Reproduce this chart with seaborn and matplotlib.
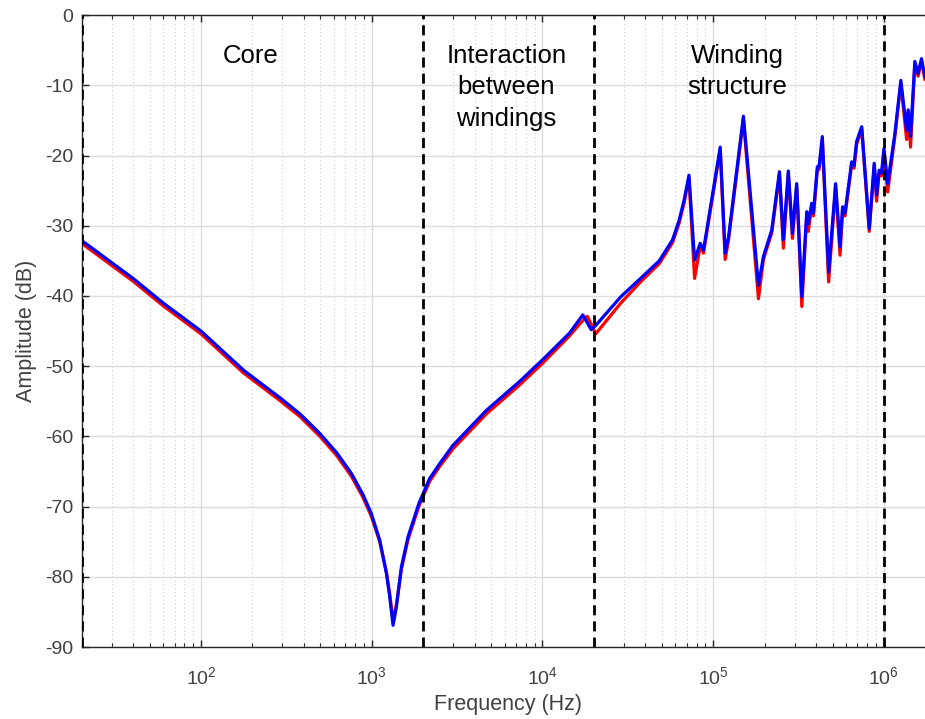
import numpy as np
import pandas as pd
import matplotlib
matplotlib.use("Agg")
import matplotlib.pyplot as plt
import seaborn as sns
from matplotlib.ticker import LogLocator, NullFormatter, FixedLocator

# ---------------- data ----------------
freq_hz = [20, 40, 60, 100, 178, 290, 380, 497, 622, 761, 889, 995, 1114, 1219,
           1274, 1333, 1394, 1492, 1631, 1892, 2183, 2498, 2985, 4690, 7330,
           10000, 14390, 17220, 18300, 19280, 20500, 28800, 37150, 48300, 57800,
           63200, 67600, 72110,
           77800, 83950, 87700, 109900, 117500, 123000, 150300, 184100, 196800,
           220300, 244300, 257600, 275400, 291100, 308300, 330400, 353200,
           360600, 377600, 386400, 407400, 416900, 435500, 474300, 521200,
           553400, 572800, 591600, 647100, 668300, 691800, 741300, 820400,
           877000, 905700, 937600, 968300, 1000000, 1052000, 1159000, 1256000,
           1358000, 1387000, 1432000, 1517000, 1585000, 1660000, 1738000]

blue_db = [-32.1, -37.5, -41.0, -45.0, -50.6, -54.5, -56.8, -59.6, -62.3, -65.3,
           -68.3, -71.0, -74.8, -79.5, -82.8, -86.9, -84.3, -78.6, -74.3, -69.5,
           -66.0, -63.9, -61.3, -56.3, -52.2, -49.1, -45.3, -42.7, -43.8, -44.8,
           -44.2, -40.1, -37.6, -35.0, -32.0, -29.2, -26.3, -22.8,
           -34.9, -32.5, -33.5, -18.8, -33.9, -31.6, -14.4, -38.5, -34.4, -30.6,
           -22.3, -32.0, -22.2, -31.1, -24.0, -40.1, -28.0, -29.7, -26.8, -28.2,
           -21.6, -21.6, -17.3, -36.6, -24.0, -33.0, -27.3, -28.2, -20.9, -21.4,
           -18.0, -15.9, -30.4, -21.1, -25.6, -22.1, -22.5, -19.0, -24.0, -16.9,
           -9.3, -16.4, -13.5, -17.3, -6.6, -8.3, -6.2, -8.8]

red_db = [-32.5, -37.9, -41.4, -45.4, -51.0, -54.9, -57.2, -60.0, -62.7, -65.7,
          -68.7, -71.4, -75.0, -79.4, -82.4, -86.3, -84.0, -78.9, -74.7, -69.9,
          -66.4, -64.3, -61.8, -56.8, -52.7, -49.6, -45.7, -43.5, -42.9, -44.0,
          -45.4, -41.0, -38.1, -35.4, -32.4, -29.6, -26.7, -23.2,
          -37.5, -32.9, -33.9, -19.2, -34.8, -32.0, -14.9, -40.4, -34.8, -31.0,
          -22.7, -33.2, -22.6, -31.8, -24.4, -41.5, -28.4, -30.8, -27.2, -28.6,
          -22.0, -22.0, -17.7, -38.0, -24.4, -34.2, -27.7, -28.6, -21.3, -21.8,
          -18.4, -16.3, -30.8, -21.5, -26.5, -22.5, -22.9, -19.4, -25.2, -17.3,
          -9.7, -17.7, -13.9, -18.8, -7.0, -8.7, -6.6, -9.2]

region_bounds_hz = [20, 2000, 20000, 1000000]
region_labels = ["Core", "Interaction\nbetween\nwindings", "Winding\nstructure"]
region_label_pos = [(194, -5.8), (6140, -10.3), (138700, -8.0)]

y_ticks = [0, -10, -20, -30, -40, -50, -60, -70, -80, -90]

# ---------------- style ----------------
sns.set_theme(style="white")
plt.rcParams["font.family"] = ["Liberation Sans", "DejaVu Sans"]
plt.rcParams["mathtext.fontset"] = "custom"
plt.rcParams["mathtext.rm"] = "Liberation Sans"
plt.rcParams["mathtext.it"] = "Liberation Sans:italic"
plt.rcParams["axes.unicode_minus"] = False

fig = plt.figure(figsize=(9.25, 7.19), dpi=100)
ax = fig.add_axes([0.0883, 0.1001, 1.0 - 0.0883, 0.979 - 0.1001])

df = pd.DataFrame({
    "Frequency (Hz)": freq_hz * 2,
    "Amplitude (dB)": red_db + blue_db,
    "series": ["red"] * len(freq_hz) + ["blue"] * len(freq_hz),
})

sns.lineplot(data=df, x="Frequency (Hz)", y="Amplitude (dB)", hue="series",
             palette={"red": "#ff0000", "blue": "#0000ff"},
             hue_order=["red", "blue"], linewidth=2.3, legend=False, ax=ax,
             sort=False, estimator=None)

ax.set_xscale("log")
ax.set_xlim(20, 1.74e6)
ax.set_ylim(-90, 0)

# region boundaries
for xb in region_bounds_hz:
    ax.axvline(xb, color="black", linewidth=2.0, linestyle=(0, (3.6, 2.2)), zorder=5)

for txt, (xp, yp) in zip(region_labels, region_label_pos):
    ax.text(xp, yp, txt, ha="center", va="center", fontsize=18.5,
            color="black", linespacing=1.38)

# ticks and grid
ax.yaxis.set_major_locator(FixedLocator(y_ticks))
ax.xaxis.set_major_locator(LogLocator(base=10, numticks=20))
ax.xaxis.set_minor_locator(LogLocator(base=10, subs=np.arange(2, 10), numticks=50))
ax.xaxis.set_minor_formatter(NullFormatter())

ax.grid(True, which="major", axis="both", color="#dcdcdc", linewidth=1.0, linestyle="-")
ax.grid(True, which="minor", axis="x", color="#d0d0d0", linewidth=0.8, linestyle=(0, (1, 2.5)))
ax.set_axisbelow(True)

ax.tick_params(axis="both", which="major", direction="in", length=5, width=1,
               colors="#262626", labelcolor="#404040", labelsize=14,
               top=True, bottom=True, left=True, right=False)
ax.tick_params(axis="x", which="minor", direction="in", length=3, width=0.8,
               colors="#262626", top=True, bottom=True)
ax.tick_params(axis="x", which="major", pad=14)
ax.tick_params(axis="y", which="major", pad=6)

for side in ["left", "bottom", "top"]:
    ax.spines[side].set_color("#262626")
    ax.spines[side].set_linewidth(1.0)
ax.spines["right"].set_visible(False)

ax.set_xlabel("Frequency (Hz)", fontsize=15.5, color="#404040")
ax.set_ylabel("Amplitude (dB)", fontsize=15.5, color="#404040")
ax.xaxis.set_label_coords((508 - 82) / (925 - 82), -0.074)
ax.yaxis.set_label_coords(-0.053, 0.5)

fig.savefig("out.png", dpi=100)
